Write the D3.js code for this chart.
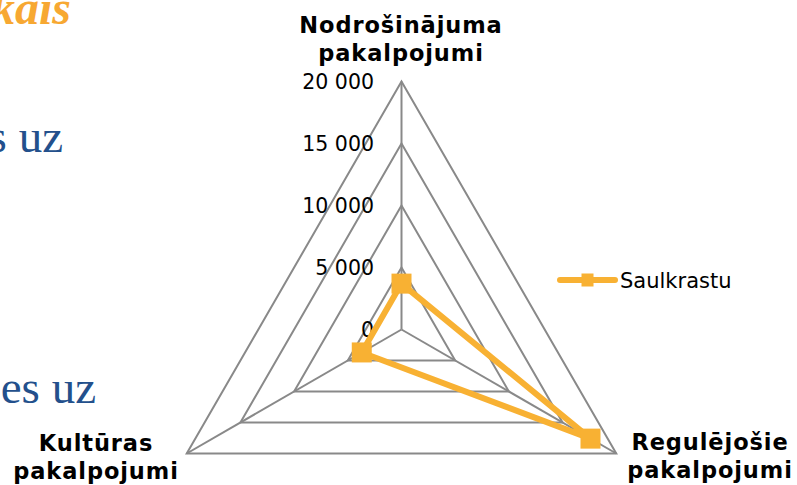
<!DOCTYPE html>
<html>
<head>
<meta charset="utf-8">
<script src="https://cdn.jsdelivr.net/npm/d3@7"></script>
<style>
  body { margin: 0; background: #fff; }
  svg { display: block; }
</style>
</head>
<body>
<div id="chart"></div>
<script>
// chart data
let categories = ["Nodrošinājuma pakalpojumi", "Regulējošie pakalpojumi", "Kultūras pakalpojumi"];
let seriesName = "Saulkrastu";
let seriesValues = [3700, 17600, 3700];
let tickValues = [0, 5000, 10000, 15000, 20000];

let svgWidth = 797;
let svgHeight = 485;

let cx = 401.5;
let cy = 329.5;
let radius = 248;
let orange = "#F8B133";
let gridColor = "#898989";

let svg = d3.select("#chart")
  .append("svg")
  .attr("width", svgWidth)
  .attr("height", svgHeight);

// leftovers of the slide behind the chart
let bg = svg.append("g");
bg.append("text")
  .attr("x", 71).attr("y", 24)
  .attr("text-anchor", "end")
  .style("font-family", "Liberation Serif")
  .style("font-style", "italic")
  .style("font-weight", "bold")
  .style("font-size", "48px")
  .attr("fill", "#F7A832")
  .text("kais");
bg.append("text")
  .attr("x", 63).attr("y", 152)
  .attr("text-anchor", "end")
  .style("font-family", "Liberation Serif")
  .style("font-size", "47px")
  .attr("fill", "#23508C")
  .text("s uz");
bg.append("text")
  .attr("x", 96).attr("y", 403)
  .attr("text-anchor", "end")
  .style("font-family", "Liberation Serif")
  .style("font-size", "47px")
  .attr("fill", "#23508C")
  .text("es uz");

let rScale = d3.scaleLinear()
  .domain([0, 20000])
  .range([0, radius]);

let angle = i => -Math.PI / 2 + i * 2 * Math.PI / categories.length;
let point = (v, i) => [cx + rScale(v) * Math.cos(angle(i)), cy + rScale(v) * Math.sin(angle(i))];

let chartGroup = svg.append("g");

// grid rings
chartGroup.selectAll(".ring")
  .data(tickValues.filter(t => t > 0))
  .enter()
  .append("polygon")
  .attr("class", "ring")
  .attr("points", t => categories.map((c, i) => point(t, i).join(",")).join(" "))
  .attr("fill", "none")
  .attr("stroke", gridColor)
  .attr("stroke-width", 2);

// spokes
chartGroup.selectAll(".spoke")
  .data(categories)
  .enter()
  .append("line")
  .attr("x1", cx).attr("y1", cy)
  .attr("x2", (d, i) => point(20000, i)[0])
  .attr("y2", (d, i) => point(20000, i)[1])
  .attr("stroke", gridColor)
  .attr("stroke-width", 2);

// tick labels
let fmt = v => d3.format(",")(v).replace(/,/g, " ");
chartGroup.selectAll(".tick")
  .data(tickValues)
  .enter()
  .append("text")
  .attr("x", cx - 27.5)
  .attr("y", t => cy - rScale(t) + 7.5)
  .attr("text-anchor", "end")
  .style("font-family", "DejaVu Sans")
  .style("font-size", "20.5px")
  .attr("fill", "#000")
  .text(fmt);

// series line
let line = d3.line().curve(d3.curveLinearClosed);
chartGroup.append("path")
  .attr("d", line(seriesValues.map((v, i) => point(v, i))))
  .attr("fill", "none")
  .attr("stroke", orange)
  .attr("stroke-width", 6)
  .attr("stroke-linejoin", "round");

chartGroup.selectAll(".marker")
  .data(seriesValues)
  .enter()
  .append("rect")
  .attr("x", (v, i) => point(v, i)[0] - 10)
  .attr("y", (v, i) => point(v, i)[1] - 10)
  .attr("width", 20)
  .attr("height", 20)
  .attr("fill", orange);

// category labels
let labelPos = [
  { x: 401, y: 33 },
  { x: 710, y: 450 },
  { x: 96, y: 451 }
];
categories.forEach(function(c, i) {
  let words = c.split(" ");
  let t = chartGroup.append("text")
    .attr("text-anchor", "middle")
    .style("font-family", "DejaVu Sans")
    .style("font-weight", "bold")
    .style("font-size", "22.5px")
    .style("letter-spacing", "0.9px")
    .attr("fill", "#000");
  words.forEach(function(w, j) {
    t.append("tspan")
      .attr("x", labelPos[i].x)
      .attr("y", labelPos[i].y + j * 27.5)
      .text(w);
  });
});

// legend
let legend = svg.append("g").attr("transform", "translate(560, 280)");
legend.append("line")
  .attr("x1", 0).attr("x2", 55)
  .attr("y1", 0).attr("y2", 0)
  .attr("stroke", orange)
  .attr("stroke-width", 6)
  .attr("stroke-linecap", "round");
legend.append("rect")
  .attr("x", 21.5).attr("y", -6.5)
  .attr("width", 12).attr("height", 13)
  .attr("fill", orange);
legend.append("text")
  .attr("x", 60).attr("y", 7.5)
  .style("font-family", "DejaVu Sans")
  .style("font-size", "21px")
  .attr("fill", "#000")
  .text(seriesName);
</script>
</body>
</html>
